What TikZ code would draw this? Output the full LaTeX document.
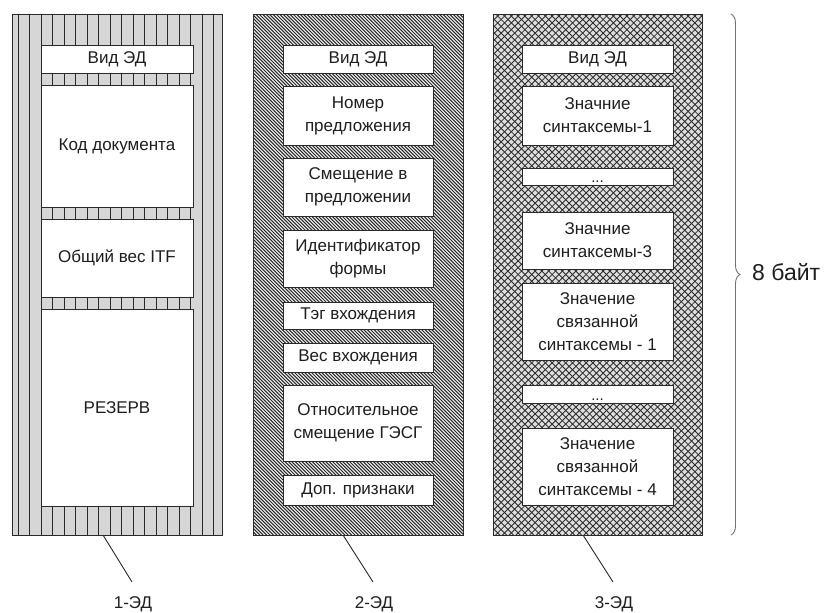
\documentclass[tikz,border=0pt]{standalone}
\usepackage{fontspec}
\setmainfont{Liberation Sans}
\usetikzlibrary{decorations.pathreplacing}
\definecolor{txt}{HTML}{1E1E1E}
\definecolor{lightfill}{HTML}{D6D6D6}
\definecolor{edge}{HTML}{2A2A2A}
\begin{document}
\begin{tikzpicture}[x=1pt,y=-1pt,
  box/.style={draw=edge, line width=0.8pt, fill=white, inner sep=0pt, align=center,
    text=txt, font=\fontsize{17}{23}\selectfont},
  boxa/.style={box, minimum width=152},
  boxb/.style={box, minimum width=150},
  boxc/.style={box, minimum width=151},
  dots/.style={text height=12pt, text depth=0pt, font=\fontsize{15}{16}\selectfont},
  colframe/.style={draw=edge, line width=1pt, inner sep=0pt, minimum height=521},
  lab/.style={inner sep=0pt, text=txt, font=\fontsize{17}{20}\selectfont},
  leader/.style={draw=edge, line width=0.9pt},
  bracestyle/.style={draw=black!55, line width=0.9pt, decorate, decoration={brace, amplitude=9pt}}
]
\useasboundingbox (0,0) rectangle (831,613);
\fill[white] (0,0) rectangle (831,613);

% column 1 pattern: vertical stripes
\begin{scope}
  \clip (12,14) rectangle (222,535);
  \fill[lightfill] (12,14) rectangle (222,535);
  \foreach \k in {0,...,17} \draw[line width=1.1pt, edge] ({18.3+11.5*\k},14) -- ++(0,521);
\end{scope}
% column 2 pattern: dense diagonal lines
\begin{scope}
  \clip (253,14) rectangle (463,535);
  \fill[black!5] (253,14) rectangle (463,535);
  \foreach \k in {0,...,216} \draw[line width=1.05pt, edge] ({-268+3.4*\k},14) -- ++(521,521);
\end{scope}
% column 3 pattern: cross hatch
\begin{scope}
  \clip (493,14) rectangle (702,535);
  \fill[lightfill!80!white] (493,14) rectangle (702,535);
  \foreach \k in {0,...,108} {
    \draw[line width=0.85pt, edge] ({-28+6.8*\k},14) -- ++(521,521);
    \draw[line width=0.85pt, edge] ({493+6.8*\k},14) -- ++(-521,521);
  }
\end{scope}

% column frames
\node[colframe, minimum width=210] (c1) at (117,274.5) {};
\node[colframe, minimum width=210] (c2) at (358,274.5) {};
\node[colframe, minimum width=209] (c3) at (597.5,274.5) {};

% column 1 boxes
\node[boxa, minimum height=28] (a11) at (117,59) {Вид ЭД};
\node[boxa, minimum height=122] (a12) at (117,146) {Код документа};
\node[boxa, minimum height=78] (a13) at (117,258) {Общий вес ITF};
\node[boxa, minimum height=197] (a14) at (117,407.5) {РЕЗЕРВ};

% column 2 boxes
\node[boxb, minimum height=28] (a21) at (358,59) {Вид ЭД};
\node[boxb, minimum height=59] (a22) at (358,115.5) {Номер\\предложения};
\node[boxb, minimum height=58] (a23) at (358,187) {Смещение в\\предложении};
\node[boxb, minimum height=57] (a24) at (358,258.5) {Идентификатор\\формы};
\node[boxb, minimum height=27] (a25) at (358,315.5) {Тэг вхождения};
\node[boxb, minimum height=29] (a26) at (358,357.5) {Вес вхождения};
\node[boxb, minimum height=76] (a27) at (358,423) {Относительное\\смещение ГЭСГ};
\node[boxb, minimum height=30] (a28) at (358,490) {Доп. признаки};

% column 3 boxes
\node[boxc, minimum height=28] (a31) at (597.5,59) {Вид ЭД};
\node[boxc, minimum height=59] (a32) at (597.5,115.5) {Значние\\синтаксемы-1};
\node[boxc, dots, minimum height=17] (a33) at (597.5,176.5) {...};
\node[boxc, minimum height=57] (a34) at (597.5,240.5) {Значние\\синтаксемы-3};
\node[boxc, minimum height=77] (a35) at (597.5,321.5) {Значение\\связанной\\синтаксемы - 1};
\node[boxc, dots, minimum height=18] (a36) at (597.5,394) {...};
\node[boxc, minimum height=77] (a37) at (597.5,466.5) {Значение\\связанной\\синтаксемы - 4};

% leaders and labels
\coordinate (s1) at (103,535);
\coordinate (e1) at (132,582);
\coordinate (s2) at (343,535);
\coordinate (e2) at (373,582);
\coordinate (s3) at (583,535);
\coordinate (e3) at (613,582);
\draw[leader] (s1) -- (e1);
\draw[leader] (s2) -- (e2);
\draw[leader] (s3) -- (e3);
\node[lab] (l1) at (133,604) {1-ЭД};
\node[lab] (l2) at (374,604) {2-ЭД};
\node[lab] (l3) at (614,604) {3-ЭД};

% brace
\coordinate (bt) at (731,14);
\coordinate (bb) at (731,535);
\draw[bracestyle] (bt) -- (bb);
\node[anchor=west, inner sep=0pt, text=txt, font=\fontsize{23}{26}\selectfont] (nb) at (752,272) {8 байт};
\end{tikzpicture}
\end{document}
